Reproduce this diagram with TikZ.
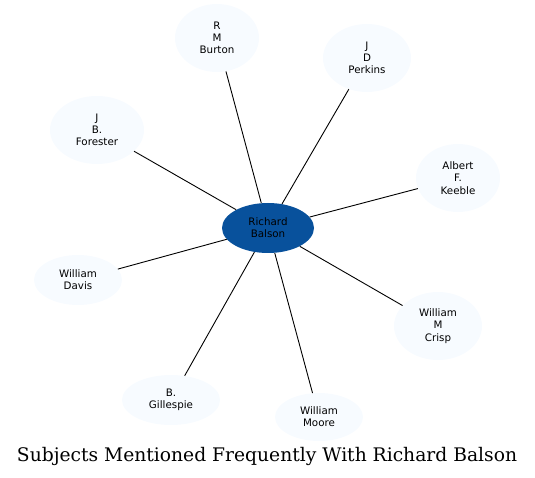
\documentclass[tikz,border=0pt]{standalone}
\usepackage{fontspec}
\setmainfont{DejaVu Serif}
\newfontfamily\nodefont{DejaVu Sans}
\usetikzlibrary{shapes.geometric}
\definecolor{leaf}{HTML}{F7FBFF}
\definecolor{hub}{HTML}{08519C}
\tikzset{
  leafnode/.style={ellipse, fill=leaf, draw=none, inner sep=0pt, align=center,
    font=\nodefont\fontsize{10.3}{12.2}\selectfont},
  hubnode/.style={ellipse, fill=hub, draw=none, inner sep=0pt, align=center,
    font=\nodefont\fontsize{10.3}{12.2}\selectfont},
  edge/.style={draw=black, line width=0.9pt}
}
\begin{document}
\begin{tikzpicture}[x=1pt,y=-1pt]
\useasboundingbox (0,0) rectangle (535,478);
\node[hubnode, minimum width=92pt, minimum height=50pt] (c) at (268,228) {Richard\\Balson};
\node[leafnode, minimum width=84pt, minimum height=68pt] (burton) at (217,38) {R\\M\\Burton};
\node[leafnode, minimum width=88pt, minimum height=68pt] (perkins) at (367,58) {J\\D\\Perkins};
\node[leafnode, minimum width=94pt, minimum height=68pt] (forester) at (97,130) {J\\B.\\Forester};
\node[leafnode, minimum width=84pt, minimum height=68pt] (keeble) at (458,178) {Albert\\F.\\Keeble};
\node[leafnode, minimum width=88pt, minimum height=50pt] (davis) at (78,280) {William\\Davis};
\node[leafnode, minimum width=88pt, minimum height=68pt] (crisp) at (438,326) {William\\M\\Crisp};
\node[leafnode, minimum width=98pt, minimum height=50pt] (gillespie) at (171,400) {B.\\Gillespie};
\node[leafnode, minimum width=88pt, minimum height=48pt] (moore) at (319,417) {William\\Moore};
\foreach \n in {burton,perkins,forester,keeble,davis,crisp,gillespie,moore}
  \draw[edge] (c) -- (\n);
\node[font=\fontsize{18.7}{21}\selectfont] (title) at (267,456) {Subjects Mentioned Frequently With Richard Balson};
\end{tikzpicture}
\end{document}
